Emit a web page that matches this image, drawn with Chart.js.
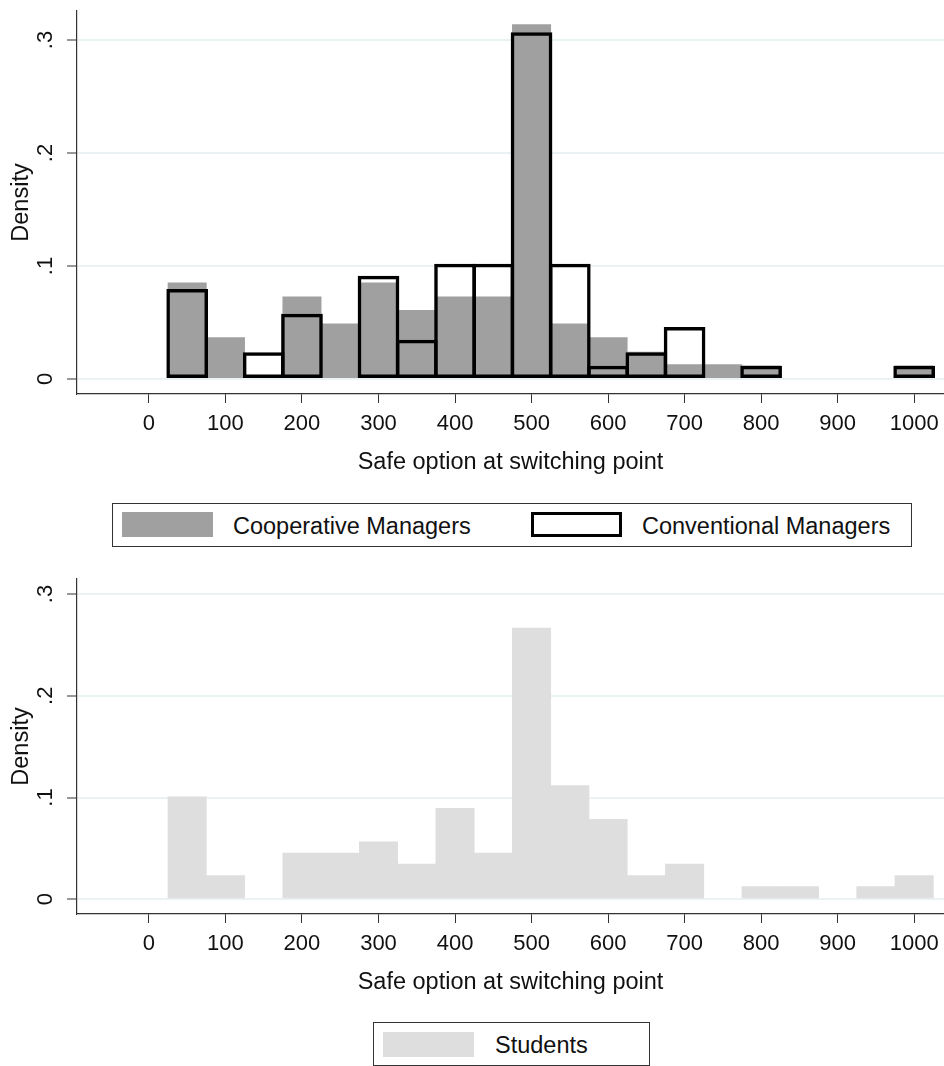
<!DOCTYPE html>
<html>
<head>
<meta charset="utf-8">
<script src="https://cdn.jsdelivr.net/npm/chart.js@4.4.1/dist/chart.umd.min.js"></script>
<style>
  body {
    margin: 0;
    width: 944px;
    height: 1066px;
    overflow: hidden;
    position: relative;
    background: #fff;
    font-family: 'Liberation Sans', Arial, sans-serif;
  }
  canvas { position: absolute; left: 0; }
  .legend { position: absolute; border: 1px solid #333; box-sizing: border-box; }
  .swatch { position: absolute; width: 91px; height: 25px; box-sizing: border-box; }
  .label { position: absolute; font-size: 23.5px; line-height: 28px; color: #111; white-space: nowrap; }
</style>
</head>
<body>
<canvas id="managers-chart" width="944" height="480" style="top:0"></canvas>
<canvas id="students-chart" width="944" height="440" style="top:560px"></canvas>

<div class="legend" style="left:112px; top:503px; width:800px; height:44px"></div>
<div class="swatch" style="left:122px; top:512px; background:#a0a0a0"></div>
<div class="label" style="left:233px; top:512px">Cooperative Managers</div>
<div class="swatch" style="left:531px; top:512px; border:3.5px solid #000; background:#fff"></div>
<div class="label" style="left:642px; top:512px">Conventional Managers</div>

<div class="legend" style="left:373px; top:1022px; width:277px; height:44px"></div>
<div class="swatch" style="left:383px; top:1032px; background:#dedede"></div>
<div class="label" style="left:495px; top:1031px">Students</div>

<script>
// bins of width 50, centred on these values
const binCenters = [50, 100, 150, 200, 250, 300, 350, 400, 450, 500,
  550, 600, 650, 700, 750, 800, 850, 900, 950, 1000];

const cooperativeDensity = [0.0855, 0.037, 0, 0.073, 0.049, 0.0855, 0.061, 0.073, 0.073, 0.314,
  0.049, 0.037, 0.024, 0.013, 0.013, 0.012, 0, 0, 0, 0.012];
const conventionalDensity = [0.0796, 0, 0.0236, 0.0578, 0, 0.0914, 0.0348, 0.102, 0.102, 0.307,
  0.102, 0.0118, 0.0236, 0.046, 0, 0.0118, 0, 0, 0, 0.0118];
const studentsDensity = [0.101, 0.0236, 0, 0.0456, 0.0456, 0.0567, 0.0348, 0.0898, 0.0456, 0.267,
  0.112, 0.079, 0.0236, 0.0348, 0, 0.0128, 0.0128, 0, 0.0128, 0.0236];

const xTickValues = [0, 100, 200, 300, 400, 500, 600, 700, 800, 900, 1000];
const yTickValues = [0, 0.1, 0.2, 0.3];
const yTickLabels = ['0', '.1', '.2', '.3'];

const xTitle = 'Safe option at switching point';
const yTitle = 'Density';

const axisColor = '#333';
const gridColor = '#eaf2f3';
const tickFont = { family: "'Liberation Sans', Arial, sans-serif", size: 22 };
const titleFont = { family: "'Liberation Sans', Arial, sans-serif", size: 23.5 };

function toPoints(values) {
  return binCenters.map((center, i) => ({
    x: center,
    y: values[i] === 0 ? null : values[i],
  }));
}

function buildScales(yMin, yMax) {
  return {
    x: {
      type: 'linear',
      min: -94,
      max: 1039,
      offset: false,
      afterBuildTicks: (scale) => {
        scale.ticks = xTickValues.map((v) => ({ value: v }));
      },
      afterFit: (scale) => {
        scale.height = 86;
        scale.paddingLeft = 0;
        scale.paddingRight = 0;
      },
      ticks: {
        color: '#111',
        font: tickFont,
        padding: 8,
        maxRotation: 0,
        autoSkip: false,
        callback: (value) => String(value),
      },
      grid: {
        offset: false,
        drawOnChartArea: false,
        drawTicks: true,
        tickLength: 9,
        tickColor: axisColor,
        tickWidth: 1,
      },
      border: { display: true, color: axisColor, width: 1.2 },
      title: {
        display: true,
        text: xTitle,
        color: '#111',
        font: titleFont,
        padding: { top: 0, bottom: 3 },
      },
    },
    y: {
      type: 'linear',
      min: yMin,
      max: yMax,
      afterBuildTicks: (scale) => {
        scale.ticks = yTickValues.map((v) => ({ value: v }));
      },
      afterFit: (scale) => {
        scale.width = 77;
        scale.paddingTop = 0;
        scale.paddingBottom = 0;
      },
      ticks: {
        color: '#111',
        font: tickFont,
        minRotation: 90,
        maxRotation: 90,
        crossAlign: 'center',
        padding: 12,
        autoSkip: false,
        callback: (value, index) => yTickLabels[index],
      },
      grid: {
        color: gridColor,
        lineWidth: 2,
        drawTicks: true,
        tickLength: 10,
        tickColor: axisColor,
        tickWidth: 1,
      },
      border: { display: true, color: axisColor, width: 1.2 },
      title: {
        display: true,
        text: yTitle,
        color: '#111',
        font: titleFont,
        padding: { top: 7, bottom: 0 },
      },
    },
  };
}

const commonPlugins = {
  legend: { display: false },
  tooltip: { enabled: false },
};

new Chart(document.getElementById('managers-chart'), {
  type: 'bar',
  data: {
    datasets: [
      {
        label: 'Conventional Managers',
        data: toPoints(conventionalDensity),
        backgroundColor: 'rgba(0,0,0,0)',
        borderColor: '#000',
        borderWidth: 3.5,
        borderSkipped: false,
        grouped: false,
        barPercentage: 1.09,
        categoryPercentage: 1,
        order: 0,
      },
      {
        label: 'Cooperative Managers',
        data: toPoints(cooperativeDensity),
        backgroundColor: '#a0a0a0',
        borderWidth: 0,
        grouped: false,
        barPercentage: 1.02,
        categoryPercentage: 1,
        order: 1,
      },
    ],
  },
  options: {
    responsive: false,
    animation: false,
    layout: { padding: { top: 11, left: 0, right: 0, bottom: 0 } },
    scales: buildScales(-0.0133, 0.3257),
    plugins: commonPlugins,
  },
});

new Chart(document.getElementById('students-chart'), {
  type: 'bar',
  data: {
    datasets: [
      {
        label: 'Students',
        data: toPoints(studentsDensity),
        backgroundColor: '#dedede',
        borderWidth: 0,
        grouped: false,
        barPercentage: 1.02,
        categoryPercentage: 1,
      },
    ],
  },
  options: {
    responsive: false,
    animation: false,
    layout: { padding: { top: 19, left: 0, right: 0, bottom: 0 } },
    scales: buildScales(-0.0145, 0.3148),
    plugins: commonPlugins,
  },
});
</script>
</body>
</html>
